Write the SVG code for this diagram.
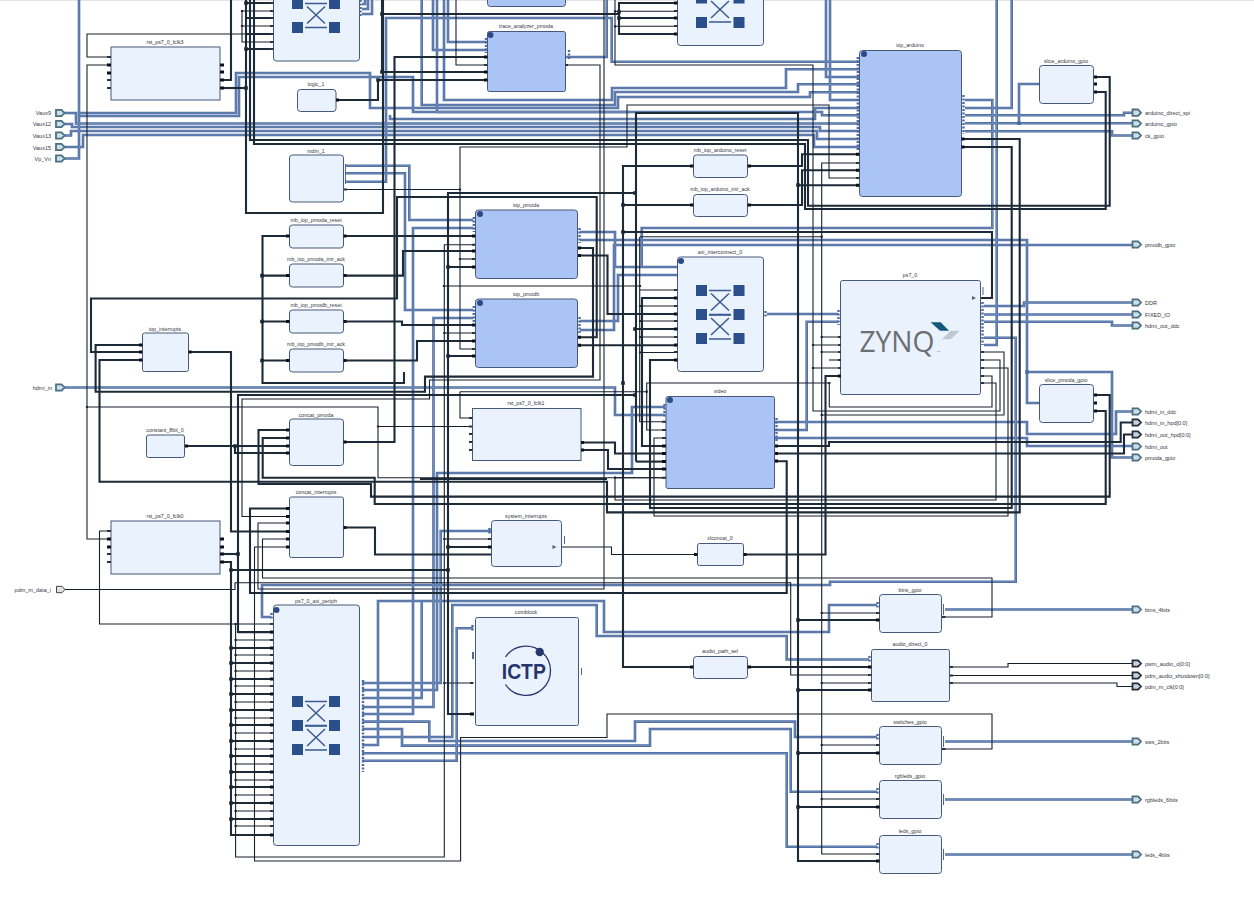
<svg xmlns="http://www.w3.org/2000/svg" width="1254" height="900" viewBox="0 0 1254 900">
<style>
text{font-family:"Liberation Sans",Arial,sans-serif;fill:#33383f}
.l{font-size:5.3px;text-anchor:middle}
.e{font-size:5.5px}
.er{font-size:5.5px;text-anchor:end}
.n{fill:#eaf3fd;stroke:#46597a;stroke-width:1}
.h{fill:#a9c4f5;stroke:#46597a;stroke-width:1}
.c,.w,.t,.busA,.busB,.pk,.pt,.pb,.j,.jt{fill:none}
.busA{stroke:#4f6d9f;stroke-width:2.6}
.busB{stroke:#7391c2;stroke-width:.8}
.w{stroke:#1d2a38;stroke-width:2.1}
.t{stroke:#17212d;stroke-width:1.1}
.pk{stroke:#0c1118;stroke-width:3}
.pt{stroke:#2a333e;stroke-width:2}
.pb{stroke:#4a6aa0;stroke-width:2.4;stroke-dasharray:2 1.5}
.j{stroke:#1b2733;stroke-width:3.6;stroke-linecap:square}
.jt{stroke:#1b2733;stroke-width:2.2;stroke-linecap:square}
.jb{fill:none;stroke:#4a6aa0;stroke-width:3.6;stroke-linecap:square}
.pa{fill:#c9dfe9;stroke:#4c6f80;stroke-width:1.8}
.pd{fill:#c4d4de;stroke:#252e3a;stroke-width:1.8}
.pg{fill:#e2e2e2;stroke:#444;stroke-width:1}
.xs{fill:#2b4f8a}
.xl{fill:none;stroke:#3a5a92;stroke-width:1.5}
.dot{fill:#2b4a86}
</style>
<defs>
<path id="po" d="M0-3.2h5.5l3 3.2-3 3.2h-5.5z"/>
<g id="x1"><path class="xl" d="M-11-12H11M-9 8 9-9M-9-9 9 8M-11 12H11"/></g>
</defs>
<rect width="1254" height="900" fill="#fff"/>
<rect width="1254" height="1" fill="#e4e4e4"/>
<g id="connectors">
<g class="busA"><g id="bus">
<path d="M64 158.5H79V0"/>
<path d="M64 147H83V135H814V147H859"/>
<path d="M64 135.5H71V131H817V139H859"/>
<path d="M64 124H72V127H820V131H859"/>
<path d="M64 113H76V123.5H859"/>
<path d="M79 113H236V73H370V108H618V97H810V92.3H859"/>
<path d="M79 116H239V77H413V112H822V115.3H859"/>
<path d="M444 0V100H612V88H786V69.3H859"/>
<path d="M421.7 0V105H615V92H798V84.3H859"/>
<path d="M437 0V112H630"/>
<path d="M448 0V42H487"/>
<path d="M433 0V50H487"/>
<path d="M565 57H606.7V0"/>
<path d="M345 181.7H386V18H611.7V61.7H859"/>
<path d="M345 165.7H409.3V220H473"/>
<path d="M345 173.3H405V310H473"/>
<path d="M826 0V77H859"/>
<path d="M830 0V100H859"/>
<path d="M390 115V119H815V108H859"/>
<path d="M362 4H365V0M362 9H368V0M362 14H372V0"/>
<path d="M965 100H992.3V228H641.7V267"/>
<path d="M965 108H1011.7V0"/>
<path d="M965 115.3H1124V112.7H1132"/>
<path d="M965 123.3H1132"/>
<path d="M965 131.3H1112V135.5H1132"/>
<path d="M1039 84H1019V123.3"/>
<path d="M996.7 0V345H984"/>
<path d="M580 240H1027V403H1039"/>
<path d="M1027 372H1112V457.5H1132"/>
<path d="M580 232H615V267H677"/>
<path d="M580 321H618V275H677"/>
<path d="M580 330H614V245H1132"/>
<path d="M362 714H413V228H473"/>
<path d="M362 707H433.5V318H473"/>
<path d="M362 690H437V473H632V407H665"/>
<path d="M362 683H440.7V531H491"/>
<path d="M362 698H421.7V601"/>
<path d="M64 387.5H615V415H665"/>
<path d="M767 314H838"/>
<path d="M775 430H806.7V321.7H838"/>
<path d="M775 422H1027V434H1116V411.5H1132"/>
<path d="M775 438H1027V446H1132"/>
<path d="M984 306H1024V302.5H1132"/>
<path d="M984 314.5H1132"/>
<path d="M984 321.7H1112V325.5H1132"/>
<path d="M984 337.7H1015.7V581.7H830V585H262V617H271"/>
<path d="M362 745H378V601H604V632H829V605H877"/>
<path d="M362 737H452.3V605H596.7V636H786.7V659.5H869"/>
<path d="M362 729H402V745.6H650V729H790.7V791.7H877"/>
<path d="M362 721.6H429.3V741H635V721.6H795V737H877"/>
<path d="M362 753.3H786.7V846.7H877"/>
<path d="M362 760.7H456.7V628.3H473"/>
<path d="M945 609.5H1132M945 741.5H1132M945 799.5H1132M945 854.5H1132"/>
</g></g>
<use href="#bus" class="busB"/>
<g class="w">
<path d="M220 80H231V0"/>
<path d="M220 88H246"/>
<path d="M246 0V213H383V0"/>
<path d="M1094 77H1109.7V205.7H808V140H250V0"/>
<path d="M1094 92H1105.7V209H805V144H254V0"/>
<path d="M273 3H246M273 18H246M273 34H246M273 49H246"/>
<path d="M336 100H378V80H487"/>
<path d="M382 0V72H487"/>
<path d="M382 14H619"/>
<path d="M678 3H619V34H678M619 18H678"/>
<path d="M343.5 442H394.5V57H487"/>
<path d="M343.5 236H473"/>
<path d="M343.5 275.6H403V251H473"/>
<path d="M343.5 321.5H402V325H473"/>
<path d="M343.5 360.5H417V341H473"/>
<path d="M262 236H289M262 275.6H289M262 321.5H289M262 360.5H289"/>
<path d="M289 236H262.5V383H404V372"/>
<path d="M635 193H448V714H473"/>
<path d="M448 267H473M448 356H473M448 547H491"/>
<path d="M448 570H231"/>
<path d="M579 248H593V376.6H425V391.7H95.6V345H142"/>
<path d="M635 395H238V632H273"/>
<path d="M220 554H238"/>
<path d="M578 255.5H607.5V314H677"/>
<path d="M579 337.3H596.7V197H397V298.5H91V352H142"/>
<path d="M579 345.3H677"/>
<path d="M961 139H1019.7V512.4H607V481.7H99.5V360H142"/>
<path d="M961 147H1011.7V508H650V360H677"/>
<path d="M420 479H607"/>
<path d="M188.5 352H231V531.5H289"/>
<path d="M220 562H231V835H273"/>
<path d="M185 446H289"/>
<path d="M235 446V453H289"/>
<path d="M289 430H258.5V484H371V496.6H1109.7V395H1094"/>
<path d="M289 438H262.7V477.7H374.7V504H1105.7V411H1094"/>
<path d="M289 508.5H250V593H786.7V461.3H775"/>
<path d="M343.5 527.5H375V554.5H491"/>
<path d="M636 329H677"/>
<path d="M636 461.6V113H798V861H879"/>
<path d="M798 185.3H859M798 620H879M798 690H871M798 753H879M798 807H879"/>
<path d="M693 166H623V667H693"/>
<path d="M623 205H693"/>
<path d="M623 232H992V298H981"/>
<path d="M636 461.6H665"/>
<path d="M747.5 166H802V154.3H859"/>
<path d="M747.5 205H802V170.3H859"/>
<path d="M677 298H642V446H665"/>
<path d="M581 442.5H615V453.5H665"/>
<path d="M581 450H608V469H665"/>
<path d="M776 446H829V442H1120.7V422.5H1132"/>
<path d="M776 453.5H1124V434.5H1132"/>
<path d="M744 554.5H825.5V376H840"/>
<path d="M747.5 667H871"/>
<path d="M273 632.3H238"/>
<path d="M231 648H273M231 663H273M231 679H273M231 694H273M231 710H273M231 725H273M231 741H273M231 756H273M231 772H273M231 787H273M231 803H273M231 819H273"/>
</g>
<g class="t">
<path d="M110 57H87V34H246"/>
<path d="M110 65H87V539H110"/>
<path d="M87 407H378V477.7H665"/>
<path d="M378 426.5H472"/>
<path d="M273 11H242V42H273M242 26H273"/>
<path d="M456 0V65H487"/>
<path d="M604 0V589H258V523H289"/>
<path d="M64 589.5H235V582.7H790.7V675H871"/>
<path d="M942 749H992V714H607V737.5H460.6V861H254.5V547H289"/>
<path d="M942 617H992V578H262.5V539H289"/>
<path d="M565 65H600V380H429.5V399H242V516.5H289"/>
<path d="M473 244.7H444.3V857H235.6V624H99.5V531H110"/>
<path d="M444.3 333H473M444.3 539H491M444.3 683H473"/>
<path d="M444 286H640"/>
<path d="M615 0V65H813V411H1000V360H980"/>
<path d="M859 178H829V105H627V147H460V349H473"/>
<path d="M460 259H473"/>
<path d="M344 189.5H460"/>
<path d="M460 391.7V418H472M460 391.7H646.7"/>
<path d="M859 163H821.7V854H877"/>
<path d="M640 236.7H821.7"/>
<path d="M639.7 236.7V421.7H665"/>
<path d="M640 290H677M640 306H677M640 321H677M640 337H677M640 352.5H677"/>
<path d="M813 345H840M813 368H840"/>
<path d="M822 337H840M822 352H840"/>
<path d="M829 360H840"/>
<path d="M821.7 415H1004V352H980"/>
<path d="M980 368H1008V516H654V438H665"/>
<path d="M980 376H992V407H829.3V383H646.7V430H665"/>
<path d="M980 383H996V500H615V477.7H665"/>
<path d="M561.5 547H611.5V554.5H697"/>
<path d="M615 11.3H677M615 26.3H677"/>
<path d="M235.6 640H273M235.6 655H273M235.6 671H273M235.6 686H273M235.6 702H273M235.6 718H273M235.6 733H273M235.6 749H273M235.6 764H273M235.6 780H273M235.6 795H273M235.6 811H273M235.6 826H273M235.6 624H273"/>
<path d="M821.7 613H879M821.7 683H871M821.7 745H879M821.7 799H879"/>
<path d="M949.5 667H1008V663.5H1132"/>
<path d="M949.5 675.5H1132"/>
<path d="M949.5 683H1117V686.5H1132"/>
</g>
<path class="j" d="M246 88h0M246 3h0M246 49h0M378 80h0M382 14h0M382 72h0M619 12h0M619 18h0M262 275.6h0M262 321.5h0M262 360.5h0M448 267h0M448 356h0M448 547h0M448 570h0M635 193h0M635 329h0M635 395h0M623 205h0M623 232h0M623 383h0M798 185h0M798 620h0M798 690h0M798 753h0M798 807h0M235 446h0M231 570h0M238 554h0M231 648h0M231 663h0M231 679h0M231 694h0M231 710h0M231 725h0M231 741h0M231 756h0M231 772h0M231 787h0M231 803h0M231 819h0"/>
<path class="jt" d="M242 11h0M242 26h0M87 407h0M378 426.5h0M460 189.5h0M460 259h0M444.3 333h0M444.3 539h0M444.3 683h0M444 286h0M640 286h0M640 306h0M640 321h0M640 337h0M640 352.5h0M646.7 391.7h0M615 11.3h0M615 26.3h0M821.7 236.7h0M821.7 337h0M821.7 352h0M821.7 415h0M821.7 613h0M821.7 683h0M821.7 745h0M821.7 799h0M813 345h0M813 368h0M829.3 383h0M615 477.7h0M235.6 624h0M235.6 640h0M235.6 655h0M235.6 671h0M235.6 686h0M235.6 702h0M235.6 718h0M235.6 733h0M235.6 749h0M235.6 764h0M235.6 780h0M235.6 795h0M235.6 811h0M235.6 826h0"/>
<path class="jb" d="M1019 123.3h0M1027 372h0"/>
</g>
<g id="top_xbar_left"><rect class="n" x="273.5" y="-8" width="86" height="69" rx="3"/><rect class="xs" x="292" y="-6" width="11" height="15"/><rect class="xs" x="329" y="-6" width="11" height="15"/><rect class="xs" x="292" y="22" width="11" height="11"/><rect class="xs" x="329" y="22" width="11" height="11"/><use href="#x1" x="316" y="15.5"/></g>
<g id="top_iop"><rect class="h" x="487.5" y="-8" width="78" height="14.5" rx="3"/></g>
<g id="top_xbar_right"><rect class="n" x="677.5" y="-8" width="86" height="53.5" rx="3"/><rect class="xs" x="696" y="-6" width="11" height="9.5"/><rect class="xs" x="733.5" y="-6" width="11" height="9.5"/><rect class="xs" x="696" y="17" width="11" height="11"/><rect class="xs" x="733.5" y="17" width="11" height="11"/><use href="#x1" x="720" y="10"/></g>
<g id="rst_ps7_0_fclk3"><rect class="n" x="111" y="47" width="109" height="53"/><text class="l" x="165" y="44">rst_ps7_0_fclk3</text></g>
<g id="logic_1"><rect class="n" x="297.5" y="89.5" width="38.5" height="22" rx="3"/><text class="l" x="316" y="86">logic_1</text></g>
<g id="mdm_1"><rect class="n" x="289.5" y="155" width="54" height="47" rx="3"/><text class="l" x="316" y="153">mdm_1</text></g>
<g id="mb_iop_pmoda_reset"><rect class="n" x="289.5" y="225" width="54" height="23" rx="3"/><text class="l" x="316" y="222">mb_iop_pmoda_reset</text></g>
<g id="mb_iop_pmoda_intr_ack"><rect class="n" x="289.5" y="264" width="54" height="23" rx="3"/><text class="l" x="316" y="261">mb_iop_pmoda_intr_ack</text></g>
<g id="mb_iop_pmodb_reset"><rect class="n" x="289.5" y="310" width="54" height="23" rx="3"/><text class="l" x="316" y="307">mb_iop_pmodb_reset</text></g>
<g id="mb_iop_pmodb_intr_ack"><rect class="n" x="289.5" y="349" width="54" height="23" rx="3"/><text class="l" x="316" y="346">mb_iop_pmodb_intr_ack</text></g>
<g id="iop_interrupts"><rect class="n" x="142.5" y="333" width="46" height="38.5" rx="2"/><text class="l" x="165" y="331">iop_interrupts</text></g>
<g id="constant_8bit_0"><rect class="n" x="146.5" y="435" width="38" height="22.5" rx="2"/><text class="l" x="165" y="432">constant_8bit_0</text></g>
<g id="concat_pmoda"><rect class="n" x="289.5" y="419" width="54" height="46.5" rx="3"/><text class="l" x="316" y="417">concat_pmoda</text></g>
<g id="concat_interrupts"><rect class="n" x="289.5" y="497" width="54" height="60.5" rx="2"/><text class="l" x="316" y="494">concat_interrupts</text></g>
<g id="rst_ps7_0_fclk0"><rect class="n" x="111" y="521" width="109" height="53"/><text class="l" x="165" y="518">rst_ps7_0_fclk0</text></g>
<g id="ps7_0_axi_periph"><rect class="n" x="273.5" y="605" width="86" height="240.5" rx="3"/><circle class="dot" cx="276.5" cy="610" r="3"/><text class="l" x="316" y="603">ps7_0_axi_periph</text><rect class="xs" x="292" y="696" width="11" height="11"/><rect class="xs" x="329" y="696" width="11" height="11"/><rect class="xs" x="292" y="720" width="11" height="11"/><rect class="xs" x="329" y="720" width="11" height="11"/><rect class="xs" x="292" y="744" width="11" height="11"/><rect class="xs" x="329" y="744" width="11" height="11"/><use href="#x1" x="316" y="713.5"/><use href="#x1" x="316" y="738"/></g>
<g id="trace_analyzer_pmoda"><rect class="h" x="487.5" y="31.5" width="78" height="60" rx="2"/><circle class="dot" cx="490.5" cy="35" r="3"/><text class="l" x="526" y="28">trace_analyzer_pmoda</text></g>
<g id="iop_pmoda"><rect class="h" x="475.5" y="210" width="102" height="68.5" rx="3"/><circle class="dot" cx="480" cy="214" r="3"/><text class="l" x="526" y="207">iop_pmoda</text></g>
<g id="iop_pmodb"><rect class="h" x="475.5" y="299" width="102" height="68.5" rx="3"/><circle class="dot" cx="480" cy="303" r="3"/><text class="l" x="526" y="296">iop_pmodb</text></g>
<g id="rst_ps7_0_fclk1"><rect class="n" x="472.5" y="408.5" width="108.5" height="52"/><text class="l" x="526" y="405">rst_ps7_0_fclk1</text></g>
<g id="system_interrupts"><rect class="n" x="491.5" y="520.5" width="70" height="46" rx="3"/><text class="l" x="526" y="518">system_interrupts</text><path d="M552.5 545l4 2-4 2z" fill="#55606e"/><path d="M564.5 536v8" stroke="#4a6a90" stroke-width="1"/></g>
<g id="comblock"><rect class="n" x="475.5" y="617.5" width="103" height="108" rx="2"/><text class="l" x="526" y="614">comblock</text><path d="M505.5 657A24.6 24.6 0 1 1 505.5 684.5" fill="none" stroke="#27356f" stroke-width="1.3"/><circle cx="539.7" cy="652" r="4.2" fill="#27356f"/><text x="523.8" y="679" text-anchor="middle" font-size="22" font-weight="700" textLength="44" lengthAdjust="spacingAndGlyphs" style="fill:#27356f">ICTP</text><path d="M581.5 668v7" stroke="#4a6a90" stroke-width="1"/><path d="M473 652v7" stroke="#4a6a90" stroke-width="2"/></g>
<g id="mb_iop_arduino_reset"><rect class="n" x="693.5" y="155" width="54" height="22.5" rx="3"/><text class="l" x="720" y="152">mb_iop_arduino_reset</text></g>
<g id="mb_iop_arduino_intr_ack"><rect class="n" x="693.5" y="194.5" width="54" height="22" rx="3"/><text class="l" x="720" y="191">mb_iop_arduino_intr_ack</text></g>
<g id="axi_interconnect_0"><rect class="n" x="677.5" y="257" width="86" height="114.5" rx="3"/><circle class="dot" cx="681" cy="261" r="3"/><text class="l" x="720" y="254">axi_interconnect_0</text><rect class="xs" x="696" y="285" width="11" height="11"/><rect class="xs" x="733.5" y="285" width="11" height="11"/><rect class="xs" x="696" y="309" width="11" height="11"/><rect class="xs" x="733.5" y="309" width="11" height="11"/><rect class="xs" x="696" y="333" width="11" height="11"/><rect class="xs" x="733.5" y="333" width="11" height="11"/><use href="#x1" x="720" y="302.5"/><use href="#x1" x="720" y="327"/></g>
<g id="video"><rect class="h" x="666" y="396.5" width="108.5" height="92" rx="2"/><circle class="dot" cx="670" cy="400" r="3"/><text class="l" x="720" y="393">video</text></g>
<g id="xlconcat_0"><rect class="n" x="697.5" y="543.5" width="46" height="22" rx="2"/><text class="l" x="720" y="540">xlconcat_0</text></g>
<g id="audio_path_sel"><rect class="n" x="693.5" y="656.5" width="54" height="22" rx="3"/><text class="l" x="720" y="653">audio_path_sel</text></g>
<g id="iop_arduino"><rect class="h" x="859.5" y="50.5" width="102" height="146" rx="3"/><circle class="dot" cx="864" cy="54" r="3"/><text class="l" x="910" y="47">iop_arduino</text></g>
<g id="slice_arduino_gpio"><rect class="n" x="1039.5" y="65.5" width="54" height="38" rx="3"/><text class="l" x="1066" y="63">slice_arduino_gpio</text></g>
<g id="ps7_0"><rect class="n" x="840.5" y="280.5" width="140" height="114" rx="2"/><text class="l" x="910" y="277">ps7_0</text><text x="859.5" y="352" font-size="30" font-weight="400" textLength="75" lengthAdjust="spacingAndGlyphs" style="font-family:'Open Sans','Liberation Sans',sans-serif;fill:#6b6e73">ZYNQ</text><text x="937" y="352" font-size="2.5" style="fill:#6b6e73">TM</text><path d="M930.7 322.3h10l8.3 8.4h-9z" fill="#15587e"/><path d="M942 339.3l8.7-8.6h9l-9 8.6z" fill="#bcc9d2"/><path d="M972 296l4 2-4 2z" fill="#55606e"/><path d="M983 287v8" stroke="#4a6a90" stroke-width="1"/></g>
<g id="slice_pmoda_gpio"><rect class="n" x="1039.5" y="384.5" width="54" height="38" rx="3"/><text class="l" x="1066" y="382">slice_pmoda_gpio</text></g>
<g id="btns_gpio"><rect class="n" x="879.5" y="594.5" width="62" height="38" rx="3"/><text class="l" x="910" y="592">btns_gpio</text></g>
<g id="audio_direct_0"><rect class="n" x="871.5" y="649.5" width="78" height="52" rx="2"/><text class="l" x="910" y="646">audio_direct_0</text></g>
<g id="switches_gpio"><rect class="n" x="879.5" y="726.5" width="62" height="38" rx="3"/><text class="l" x="910" y="724">switches_gpio</text></g>
<g id="rgbleds_gpio"><rect class="n" x="879.5" y="780.5" width="62" height="38" rx="3"/><text class="l" x="910" y="778">rgbleds_gpio</text></g>
<g id="leds_gpio"><rect class="n" x="879.5" y="835.5" width="62" height="38" rx="3"/><text class="l" x="910" y="833">leds_gpio</text></g>
<g id="pins">
<path class="pk" d="M220 65h4M220 72h4M220 80h4M220 88h4M220 539h4M220 547h4M220 554h4M220 562h4M107 65h4M107 73h4M107 539h4M107 547h4M336 100h3M343.5 236h3M343.5 275.6h3M343.5 321.5h3M343.5 360.5h3M343.5 442h3M343.5 527.5h3M286 236h3.5M286 275.6h3.5M286 321.5h3.5M286 360.5h3.5M286 430h3.5M286 438h3.5M286 446h3.5M286 453h3.5M286 508.5h3.5M286 516.5h3.5M286 523h3.5M286 531.5h3.5M286 539h3.5M286 547h3.5M139 345h3.5M139 352h3.5M139 360h3.5M188.5 352h3M185 446h3M484 57h3.5M484 72h3.5M484 80h3.5M472 236h3.5M472 251h3.5M472 267h3.5M472 325h3.5M472 341h3.5M472 356h3.5M578 248h3M578 255.5h3M578 337.3h3M578 345.3h3M581 442.5h3M581 450h3M488 547h3.5M470 714h4M674 3h3.5M674 18h3.5M674 34h3.5M674 298h3.5M674 314h3.5M674 329h3.5M674 345h3.5M674 360h3.5M690 166h3.5M690 205h3.5M747.5 166h3.5M747.5 205h3.5M662 446h4M662 453.5h4M662 461.6h4M662 469h4M775 446h3M775 453.5h3M775 461h3M694 554.5h3.5M743.5 554.5h3M690 667h3.5M747.5 667h3.5M856 154.3h3.5M856 170.3h3.5M856 185.3h3.5M961.5 139h3M961.5 147h3M1094 77h3M1094 84h3M1094 92h3M1094 395h3M1094 403h3M1094 411h3M838 376h3M876 620h3.5M876 753h3.5M876 807h3.5M876 861h3.5M868 667h3.5M868 690h3.5"/>
<path class="pt" d="M107 57h4M107 80h4M107 88h4M107 531h4M107 554h4M107 562h4M484 65h3.5M472 244.7h3.5M472 259h3.5M472 333h3.5M472 349h3.5M565 65h3M270 3h3.5M270 11h3.5M270 18h3.5M270 26h3.5M270 34h3.5M270 42h3.5M270 49h3.5M344 189.5h3M469 418h3.5M469 426.5h3.5M469 434h3.5M469 442h3.5M469 450h3.5M488 539h3.5M470 683h3.5M674 11h3.5M674 26h3.5M674 290h3.5M674 306h3.5M674 321h3.5M674 337h3.5M674 352h3.5M662 421.7h4M662 430h4M662 438h4M662 477.7h4M856 163h3.5M856 178h3.5M838 337h3M838 345h3M838 352h3M838 360h3M838 368h3M981 352h3M981 360h3M981 368h3M981 376h3M981 383h3M876 613h3.5M876 745h3.5M876 799h3.5M876 854h3.5M868 675h3.5M868 683h3.5M949.5 667h3.5M949.5 675.5h3.5M949.5 683h3.5M942 617h3.5M942 749h3.5M270 624h3.5M270 640h3.5M270 655h3.5M270 671h3.5M270 686h3.5M270 702h3.5M270 718h3.5M270 733h3.5M270 749h3.5M270 764h3.5M270 780h3.5M270 795h3.5M270 811h3.5M270 826h3.5"/>
<path class="pk" d="M270 632h3.5M270 648h3.5M270 663h3.5M270 679h3.5M270 694h3.5M270 710h3.5M270 725h3.5M270 741h3.5M270 756h3.5M270 772h3.5M270 787h3.5M270 803h3.5M270 819h3.5M270 835h3.5"/>
<path class="pb" d="M857.8 57V150M473.8 217V232M473.8 306V322M963.5 95V134M569 50V60M579.5 228V243M579.5 317V333M271.5 613V620M363 680V772M360.5 0V16M486 38V53M765.5 311V317M664.5 404V417M776.5 418V442M838.5 310V325M982.5 302V345M489.5 528V535M877.5 602V609M877.5 734V741M877.5 788V795M877.5 843V850M869.5 656V662M472.5 625V631"/>
<path d="M345.5 164V184M943.5 604V615M943.5 736V747M943.5 794V805M943.5 849V860M1038 84v1M1038 403v1" fill="none" stroke="#4a6a90" stroke-width="1"/>
</g>
<g id="ports">
<g id="Vaux9"><use href="#po" class="pa" x="56" y="113"/><text class="er" x="51" y="115">Vaux9</text></g>
<g id="Vaux12"><use href="#po" class="pa" x="56" y="124"/><text class="er" x="51" y="126">Vaux12</text></g>
<g id="Vaux13"><use href="#po" class="pa" x="56" y="135.5"/><text class="er" x="51" y="138">Vaux13</text></g>
<g id="Vaux15"><use href="#po" class="pa" x="56" y="147"/><text class="er" x="51" y="150">Vaux15</text></g>
<g id="Vp_Vn"><use href="#po" class="pa" x="56" y="158.5"/><text class="er" x="51" y="161">Vp_Vn</text></g>
<g id="hdmi_in"><use href="#po" class="pa" x="56" y="387.5"/><text class="er" x="52" y="390">hdmi_in</text></g>
<g id="pdm_m_data_i"><use href="#po" class="pg" x="56.5" y="589.5"/><text class="er" x="51" y="592">pdm_m_data_i</text></g>
<g id="arduino_direct_spi"><use href="#po" class="pa" x="1132.5" y="112.7"/><text class="e" x="1145" y="115">arduino_direct_spi</text></g>
<g id="arduino_gpio"><use href="#po" class="pa" x="1132.5" y="123.5"/><text class="e" x="1145" y="126">arduino_gpio</text></g>
<g id="ck_gpio"><use href="#po" class="pa" x="1132.5" y="135.5"/><text class="e" x="1145" y="138">ck_gpio</text></g>
<g id="pmodb_gpio"><use href="#po" class="pa" x="1132.5" y="244.5"/><text class="e" x="1145" y="247">pmodb_gpio</text></g>
<g id="DDR"><use href="#po" class="pa" x="1132.5" y="302.5"/><text class="e" x="1145" y="305">DDR</text></g>
<g id="FIXED_IO"><use href="#po" class="pa" x="1132.5" y="314.5"/><text class="e" x="1145" y="317">FIXED_IO</text></g>
<g id="hdmi_out_ddc"><use href="#po" class="pa" x="1132.5" y="325.5"/><text class="e" x="1145" y="328">hdmi_out_ddc</text></g>
<g id="hdmi_in_ddc"><use href="#po" class="pa" x="1132.5" y="411.5"/><text class="e" x="1145" y="414">hdmi_in_ddc</text></g>
<g id="hdmi_in_hpd"><use href="#po" class="pd" x="1132.5" y="422.5"/><text class="e" x="1145" y="425">hdmi_in_hpd[0:0]</text></g>
<g id="hdmi_out_hpd"><use href="#po" class="pd" x="1132.5" y="434.5"/><text class="e" x="1145" y="437">hdmi_out_hpd[0:0]</text></g>
<g id="hdmi_out"><use href="#po" class="pa" x="1132.5" y="446.5"/><text class="e" x="1145" y="449">hdmi_out</text></g>
<g id="pmoda_gpio"><use href="#po" class="pa" x="1132.5" y="457.5"/><text class="e" x="1145" y="460">pmoda_gpio</text></g>
<g id="btns_4bits"><use href="#po" class="pa" x="1132.5" y="609.5"/><text class="e" x="1145" y="612">btns_4bits</text></g>
<g id="pwm_audio_o"><use href="#po" class="pd" x="1132.5" y="663.5"/><text class="e" x="1145" y="666">pwm_audio_o[0:0]</text></g>
<g id="pdm_audio_shutdown"><use href="#po" class="pd" x="1132.5" y="675.5"/><text class="e" x="1145" y="678">pdm_audio_shutdown[0:0]</text></g>
<g id="pdm_m_clk"><use href="#po" class="pd" x="1132.5" y="686.5"/><text class="e" x="1145" y="689">pdm_m_clk[0:0]</text></g>
<g id="sws_2bits"><use href="#po" class="pa" x="1132.5" y="741.5"/><text class="e" x="1145" y="744">sws_2bits</text></g>
<g id="rgbleds_6bits"><use href="#po" class="pa" x="1132.5" y="799.5"/><text class="e" x="1145" y="802">rgbleds_6bits</text></g>
<g id="leds_4bits"><use href="#po" class="pa" x="1132.5" y="854.5"/><text class="e" x="1145" y="857">leds_4bits</text></g>
</g>
</svg>
